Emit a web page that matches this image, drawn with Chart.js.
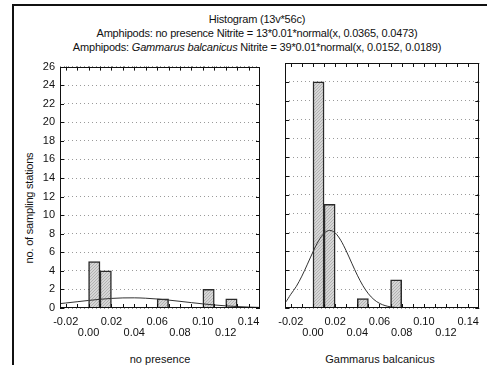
<!DOCTYPE html>
<html><head><meta charset="utf-8">
<script src="https://cdn.jsdelivr.net/npm/chart.js@4"></script>
<style>
html,body{margin:0;padding:0;background:#fff;}
body{width:487px;height:365px;position:relative;overflow:hidden;font-family:"Liberation Sans",Arial,sans-serif;color:#111;}
#frame{position:absolute;left:12px;top:4px;width:520px;height:400px;border-left:2px solid #111;border-top:2px solid #111;}
.t{position:absolute;left:12px;width:490px;text-align:center;white-space:nowrap;font-size:11px;letter-spacing:-0.2px;}
canvas{position:absolute;}
#ytitle{position:absolute;left:29px;top:208px;transform:translate(-50%,-50%) rotate(-90deg);white-space:nowrap;font-size:11px;letter-spacing:-0.2px;}
.xt{position:absolute;top:353px;font-size:11px;white-space:nowrap;transform:translateX(-50%);}
</style></head>
<body>
<div id="frame"></div>
<div class="t" style="top:13px">Histogram (13v*56c)</div>
<div class="t" style="top:27px">Amphipods: no presence Nitrite = 13*0.01*normal(x, 0.0365, 0.0473)</div>
<div class="t" style="top:41px">Amphipods: <i>Gammarus balcanicus</i> Nitrite = 39*0.01*normal(x, 0.0152, 0.0189)</div>
<div id="ytitle">no. of sampling stations</div>
<div class="xt" style="left:160px">no presence</div>
<div class="xt" style="left:380px">Gammarus balcanicus</div>
<canvas id="c1" width="270" height="310" style="left:0;top:55px;width:270px;height:310px"></canvas>
<canvas id="c2" width="217" height="310" style="left:270px;top:55px;width:217px;height:310px"></canvas>
<script>
// ---- data ----
const binCentersNone = [0.005, 0.015, 0.065, 0.105, 0.125];
const countsNone = [5, 4, 1, 2, 1];
const binCentersGam = [0.005, 0.015, 0.045, 0.075];
const countsGam = [24, 11, 1, 3];
// fitted normal curve: 13*0.01*normal(x,0.0365,0.0473)
const curveXNone = [-0.03,-0.02,-0.01,0.00,0.01,0.02,0.03,0.04,0.05,0.06,0.07,0.08,0.09,0.10,0.11,0.12,0.13,0.14,0.15,0.16];
const curveYNone = [0.41,0.537,0.676,0.814,0.937,1.032,1.086,1.094,1.053,0.969,0.853,0.718,0.578,0.445,0.328,0.231,0.155,0.100,0.062,0.037];
// fitted normal curve: 39*0.01*normal(x,0.0152,0.0189)
const curveXGam = [-0.03,-0.025,-0.02,-0.015,-0.01,-0.005,0.00,0.005,0.01,0.015,0.02,0.025,0.03,0.035,0.04,0.045,0.05,0.055,0.06,0.065,0.07,0.075,0.08,0.085,0.09,0.10,0.11,0.12,0.13,0.14,0.15,0.16];
const curveYGam = [0.28,0.59,1.453,2.297,3.384,4.650,5.958,7.117,7.927,8.232,7.971,7.197,6.058,4.755,3.481,2.375,1.511,0.897,0.496,0.256,0.123,0.055,0.023,0.009,0.003,0.0003,0,0,0,0,0,0];
const xTicks = [-0.02,-0.01,0.00,0.01,0.02,0.03,0.04,0.05,0.06,0.07,0.08,0.09,0.10,0.11,0.12,0.13,0.14];
const xLabelTicks = [-0.02,0.00,0.02,0.04,0.06,0.08,0.10,0.12,0.14];
const yTicks = [0,2,4,6,8,10,12,14,16,18,20,22,24,26];
const xMin = -0.025, xMax = 0.15, yMin = 0, yMax = 26;

const framePlugin = {
  id:'frame',
  afterDatasetsDraw(chart){
    const {ctx, chartArea:a, scales} = chart;
    ctx.save();
    ctx.strokeStyle = '#111'; ctx.lineWidth = 1;
    ctx.strokeRect(Math.round(a.left)+0.5, Math.round(a.top)+0.5, Math.round(a.right-a.left)-1, Math.round(a.bottom-a.top)-1);
    ctx.beginPath();
    xTicks.forEach(v=>{
      const px = Math.round(scales.x.getPixelForValue(v))+0.5;
      ctx.moveTo(px, a.bottom); ctx.lineTo(px, a.bottom-4);
      ctx.moveTo(px, a.top); ctx.lineTo(px, a.top+4);
    });
    yTicks.forEach(v=>{
      const py = Math.round(scales.y.getPixelForValue(v))+0.5;
      ctx.moveTo(a.left, py); ctx.lineTo(a.left+4, py);
      ctx.moveTo(a.right, py); ctx.lineTo(a.right-4, py);
    });
    ctx.stroke();
    ctx.restore();
  }
};

function makeChart(id, centers, counts, cx, cy, showY, yWidth, padRight){
  const pat = (function(){
    const c = document.createElement('canvas'); c.width = 3; c.height = 3;
    const g = c.getContext('2d');
    g.fillStyle = '#d6d6d6'; g.fillRect(0,0,3,3);
    g.fillStyle = '#b2b2b2';
    for (let i=0;i<3;i++){ g.fillRect(i,2-i,1,1); }
    return document.getElementById(id).getContext('2d').createPattern(c,'repeat');
  })();
  return new Chart(document.getElementById(id), {
    type:'bar',
    data:{datasets:[
      {type:'line', data: cx.map((x,i)=>({x, y: cy[i]})), borderColor:'#333', borderWidth:1, pointRadius:0, tension:0.4, cubicInterpolationMode:'monotone', order:0},
      {type:'bar', data: centers.map((x,i)=>({x, y: counts[i]})), backgroundColor: pat, borderColor:'#2a2a2a', borderWidth:1.5, barPercentage:1, categoryPercentage:1, grouped:false, order:1}
    ]},
    options:{
      animation:false, responsive:false, devicePixelRatio:1,
      layout:{padding:{top:8, right:padRight, left:0, bottom:0}},
      plugins:{legend:{display:false}, tooltip:{enabled:false}},
      scales:{
        x:{type:'linear', min:xMin, max:xMax, offset:false,
          afterBuildTicks(s){ s.ticks = xTicks.map(v=>({value:v})); },
          afterFit(s){ s.height = 57; },
          grid:{display:false, drawTicks:false},
          border:{display:false},
          ticks:{autoSkip:false, maxRotation:0, padding:8, color:'#111',
            font:{family:'"Liberation Sans", Arial, sans-serif', size:11, lineHeight:1.05},
            callback(v){
              const r = Math.round(v*100);
              if (r % 2 !== 0) return '';
              const s = v.toFixed(2);
              const idx = xLabelTicks.findIndex(t=>Math.abs(t-v)<1e-9);
              return (idx % 2 === 0) ? [s, ''] : ['', s];
            }}
        },
        y:{type:'linear', min:yMin, max:yMax,
          afterBuildTicks(s){ s.ticks = yTicks.map(v=>({value:v})); },
          afterFit(s){ s.width = yWidth; },
          grid:{color:'#9a9a9a', lineWidth:1, drawTicks:false},
          border:{display:false, dash:[1,3]},
          ticks:{display:showY, padding:5, color:'#111', font:{family:'"Liberation Sans", Arial, sans-serif', size:11}}
        }
      }
    },
    plugins:[framePlugin]
  });
}
makeChart('c1', binCentersNone, countsNone, curveXNone, curveYNone, true, 60, 10);
makeChart('c2', binCentersGam, countsGam, curveXGam, curveYGam, false, 10, 7);
</script>
</body></html>
